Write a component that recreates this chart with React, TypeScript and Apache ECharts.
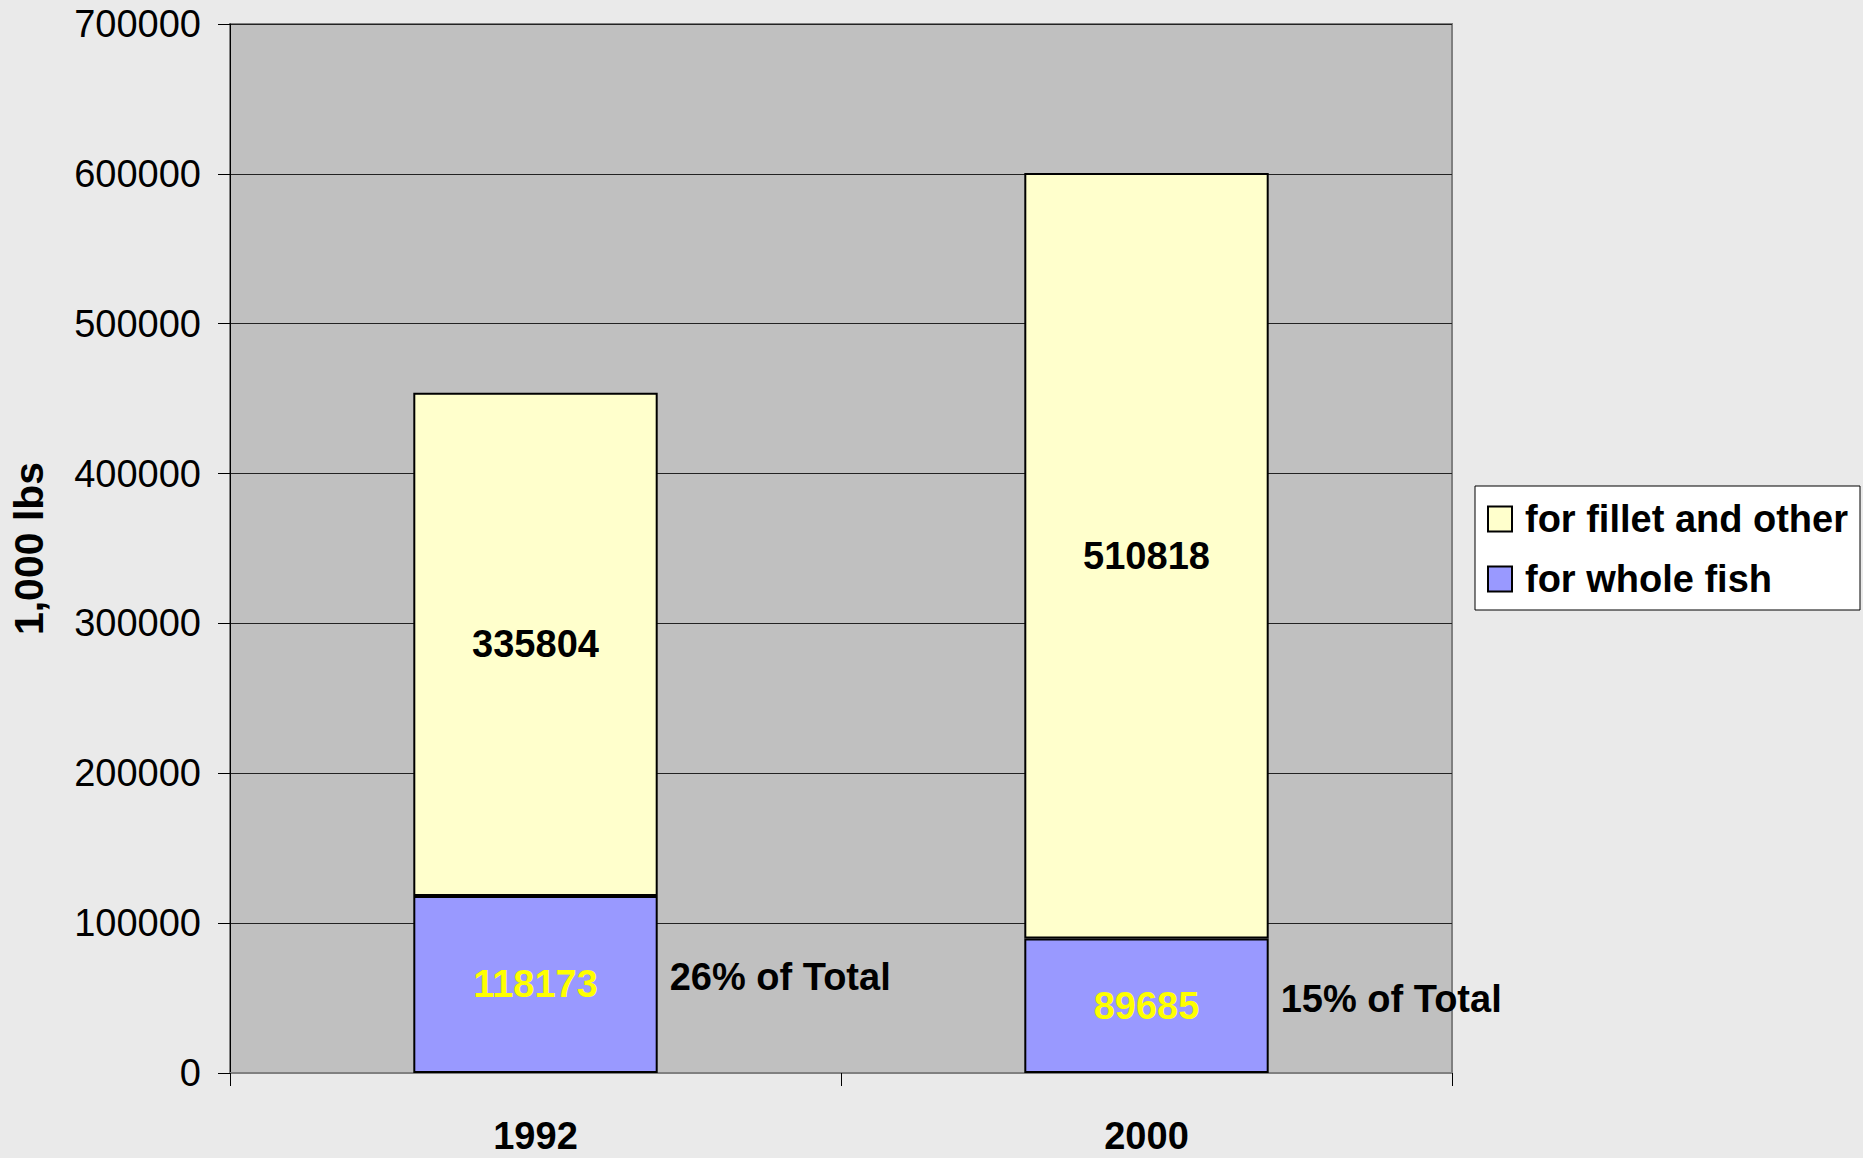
import React, { useEffect, useRef } from "react";
import * as echarts from "echarts";

const categories = ["1992", "2000"];
const wholeFish = [118173, 89685];
const filletOther = [335804, 510818];
const pctLabels = ["26% of Total", "15% of Total"];
const seriesNames = ["for fillet and other", "for whole fish"];
const yTicks = { min: 0, max: 700000, interval: 100000 };
const yAxisName = "1,000 lbs";

const FONT = "'Liberation Sans', Arial, sans-serif";

export default function App() {
  const ref = useRef<HTMLDivElement>(null);
  useEffect(() => {
    if (!ref.current) return;
    const chart = echarts.init(ref.current, null, { renderer: "svg" });
    chart.setOption({
      animation: false,
      backgroundColor: "#EAEAEA",
      textStyle: { fontFamily: FONT },
      grid: {
        left: 228,
        top: 24,
        width: 1224,
        height: 1049,
        show: true,
        backgroundColor: "#C0C0C0",
        borderColor: "#808080",
        borderWidth: 2,
      },
      legend: {
        orient: "vertical",
        left: 1475,
        top: 486,
        data: seriesNames,
        icon: "rect",
        itemWidth: 24,
        itemHeight: 25,
        itemGap: 22,
        padding: [14, 12, 12, 12],
        backgroundColor: "#FFFFFF",
        borderColor: "#000000",
        borderWidth: 1,
        borderRadius: 0,
        itemStyle: { borderColor: "#000", borderWidth: 2 },
        textStyle: {
          fontFamily: FONT,
          fontSize: 38,
          fontWeight: "bold",
          color: "#000",
          padding: [0, 0, 0, 8],
        },
      },
      xAxis: {
        type: "category",
        data: categories,
        axisLine: { show: true, lineStyle: { color: "#808080", width: 2 } },
        axisTick: { show: true, length: 13, lineStyle: { color: "#000", width: 1 } },
        axisLabel: {
          fontFamily: FONT,
          fontSize: 38,
          fontWeight: "bold",
          color: "#000",
          margin: 44,
        },
        splitLine: { show: false },
      },
      yAxis: {
        type: "value",
        min: yTicks.min,
        max: yTicks.max,
        interval: yTicks.interval,
        name: yAxisName,
        nameLocation: "middle",
        nameGap: 181,
        nameTextStyle: {
          fontFamily: FONT,
          fontSize: 41,
          fontWeight: "bold",
          color: "#000",
        },
        axisLine: { show: true, lineStyle: { color: "#000", width: 1 } },
        axisTick: { show: true, length: 12, lineStyle: { color: "#000", width: 1 } },
        axisLabel: {
          fontFamily: FONT,
          fontSize: 38,
          color: "#000",
          margin: 29,
          formatter: (v: number) => String(v),
        },
        splitLine: { show: true, lineStyle: { color: "#222", width: 1 } },
      },
      series: [
        {
          name: seriesNames[1],
          type: "bar",
          stack: "total",
          data: wholeFish,
          barWidth: "40%",
          barGap: "-100%",
          silent: true,
          itemStyle: { color: "#9999FF", borderColor: "#000", borderWidth: 2 },
          label: {
            show: true,
            position: "inside",
            fontFamily: FONT,
            fontSize: 38,
            fontWeight: "bold",
            color: "#FFFF00",
          },
        },
        {
          name: seriesNames[0],
          type: "bar",
          stack: "total",
          data: filletOther,
          barWidth: "40%",
          barGap: "-100%",
          silent: true,
          itemStyle: { color: "#FFFFCC", borderColor: "#000", borderWidth: 2 },
          label: {
            show: true,
            position: "inside",
            fontFamily: FONT,
            fontSize: 38,
            fontWeight: "bold",
            color: "#000",
          },
        },
        {
          name: "pct",
          type: "bar",
          stack: "pct",
          data: wholeFish,
          barWidth: "40%",
          barGap: "-100%",
          silent: true,
          itemStyle: { color: "rgba(0,0,0,0)", borderWidth: 0 },
          label: {
            show: true,
            position: "right",
            distance: 12,
            offset: [0, -7],
            formatter: (p: any) => pctLabels[p.dataIndex],
            fontFamily: FONT,
            fontSize: 38,
            fontWeight: "bold",
            color: "#000",
          },
        },
      ],
    });
    return () => chart.dispose();
  }, []);
  return (
    <div
      ref={ref}
      style={{ position: "fixed", left: 0, top: 0, width: 1863, height: 1158 }}
    />
  );
}
